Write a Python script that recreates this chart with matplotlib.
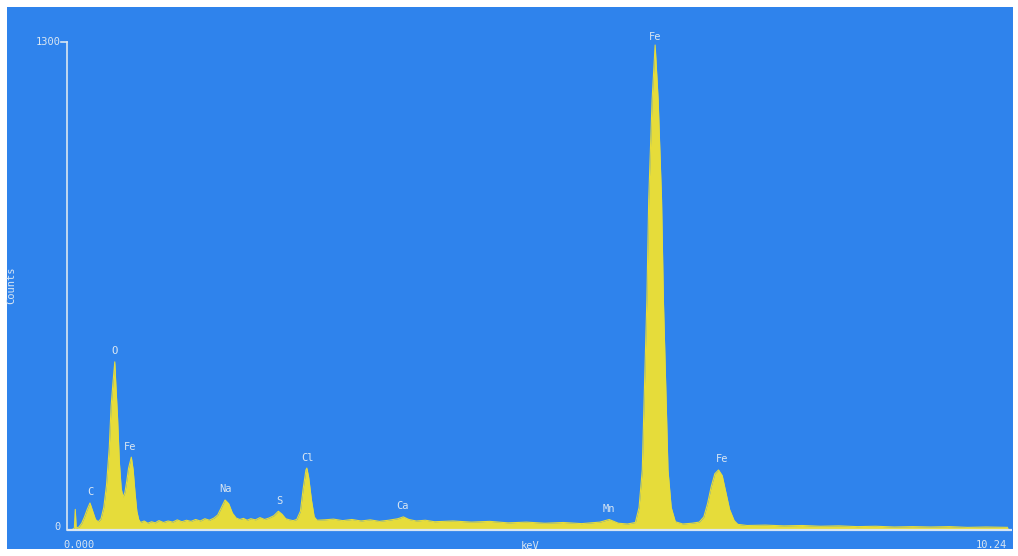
import matplotlib.pyplot as plt
from matplotlib.patches import Rectangle

# EDS spectrum (energy in keV, counts)
energy = [0.00, 0.05, 0.08, 0.09, 0.10, 0.13, 0.16, 0.19, 0.22, 0.25, 0.28, 0.31,
          0.34, 0.37, 0.40, 0.43, 0.46, 0.48, 0.50, 0.52, 0.53, 0.55, 0.57, 0.59,
          0.61, 0.63, 0.65, 0.67, 0.69, 0.70, 0.72, 0.74, 0.76, 0.78, 0.80, 0.84,
          0.88, 0.92, 0.96, 1.00, 1.05, 1.10, 1.15, 1.20, 1.25, 1.30, 1.35, 1.40,
          1.45, 1.50, 1.55, 1.60, 1.64, 1.68, 1.72, 1.76, 1.80, 1.84, 1.88, 1.92,
          1.96, 2.00, 2.05, 2.10, 2.15, 2.20, 2.25, 2.30, 2.34, 2.38, 2.42, 2.46,
          2.50, 2.54, 2.57, 2.60, 2.61, 2.63, 2.66, 2.69, 2.72, 2.80, 2.90, 3.00,
          3.10, 3.20, 3.30, 3.40, 3.50, 3.60, 3.66, 3.72, 3.80, 3.90, 4.00, 4.20,
          4.40, 4.60, 4.80, 5.00, 5.20, 5.40, 5.60, 5.80, 5.90, 6.00, 6.10, 6.185,
          6.225, 6.26, 6.28, 6.31, 6.33, 6.367, 6.40, 6.433, 6.47, 6.49, 6.52, 6.54,
          6.575, 6.62, 6.70, 6.80, 6.88, 6.93, 6.97, 7.01, 7.05, 7.09, 7.13, 7.17,
          7.21, 7.26, 7.30, 7.40, 7.60, 7.80, 8.00, 8.20, 8.40, 8.60, 8.80, 9.00,
          9.20, 9.40, 9.60, 9.80, 10.00, 10.24]
counts = [0, 0, 5, 55, 5, 8, 18, 35, 55, 72, 50, 28,
          22, 30, 60, 120, 220, 330, 392, 448, 395, 300, 180, 110,
          88, 100, 130, 165, 185, 194, 160, 100, 50, 28, 20, 24,
          18, 22, 19, 25, 20, 24, 21, 27, 22, 26, 23, 28,
          24, 30, 26, 32, 40, 60, 80, 70, 45, 32, 28, 31,
          26, 30, 27, 33, 28, 32, 38, 50, 42, 30, 27, 25,
          28, 50, 110, 160, 165, 140, 80, 35, 26, 27, 29, 25,
          28, 24, 27, 23, 26, 30, 35, 28, 24, 26, 22, 24,
          21, 23, 19, 21, 18, 20, 17, 21, 28, 18, 16, 20,
          60, 160, 346, 613, 879, 1146, 1292, 1146, 879, 613, 346, 160,
          60, 22, 16, 18, 21, 35, 70, 115, 150, 160, 145, 100,
          55, 25, 15, 12, 13, 11, 12, 10, 11, 9, 10, 8,
          9, 8, 9, 7, 8, 7]

# peak markers: element, energy, label height (counts)
peak_names = ['C', 'O', 'Fe', 'Na', 'S', 'Cl', 'Ca', 'Mn', 'Fe', 'Fe']
peak_keV = [0.25, 0.52, 0.69, 1.72, 2.31, 2.62, 3.65, 5.90, 6.40, 7.13]
peak_top = [72, 448, 194, 80, 50, 165, 35, 27, 1285, 160]

blue = '#2f83ec'
yellow = '#e6dc3a'
ink = '#d9e6f2'
mono = 'DejaVu Sans Mono'

fig = plt.figure(figsize=(10.18, 5.56), dpi=100, facecolor='white')

# the blue screen area inside the photo's white edge
W, H = 1018, 556
screen = Rectangle((7 / W, 7 / H), (1013 - 7) / W, (549 - 7) / H,
                   transform=fig.transFigure, facecolor=blue, edgecolor='none',
                   zorder=-5)
fig.patches.append(screen)

ax = fig.add_axes([67 / W, (H - 530) / H, (1008 - 67) / W, 488 / H])
ax.set_facecolor('none')
ax.fill_between(energy, counts, 0, color=yellow, lw=0)
ax.plot(energy, counts, color=yellow, lw=0.8)
ax.set_xlim(0, 10.24)
ax.set_ylim(0, 1300)

for s in ['top', 'right', 'bottom']:
    ax.spines[s].set_visible(False)
ax.spines['left'].set_color(ink)
ax.spines['left'].set_linewidth(1.2)
ax.set_xticks([])
ax.set_yticks([])

# energy axis runs on to the edge of the screen
ax.plot([0, 10.24 * (1012 - 67) / (1008 - 67)], [0, 0], color=ink, lw=1.6,
        clip_on=False, solid_capstyle='butt')
# small tick at the top of the count axis
ax.plot([-0.06, 0.0], [1300, 1300], color=ink, lw=1.2, clip_on=False)

for name, e, c in zip(peak_names, peak_keV, peak_top):
    ax.annotate(name, (e, c), xytext=(0, 4), textcoords='offset points',
                ha='center', va='bottom', color=ink, fontsize=7.5, family=mono)

ax.text(-0.07, 1300, '1300', ha='right', va='center', color=ink, fontsize=7.5, family=mono)
ax.text(-0.07, 8, '0', ha='right', va='center', color=ink, fontsize=7.5, family=mono)

fig.text(63 / W, 1 - 545 / H, '0.000', ha='left', va='center', color=ink, fontsize=7.5, family=mono)
fig.text(530 / W, 1 - 546 / H, 'keV', ha='center', va='center', color=ink, fontsize=7.5, family=mono)
fig.text(976 / W, 1 - 545 / H, '10.24', ha='left', va='center', color=ink, fontsize=7.5, family=mono)
fig.text(11 / W, 1 - 285 / H, 'Counts', ha='center', va='center', rotation=90,
         color=ink, fontsize=7.5, family=mono)

fig.savefig('out.png', dpi=100, facecolor='white')
